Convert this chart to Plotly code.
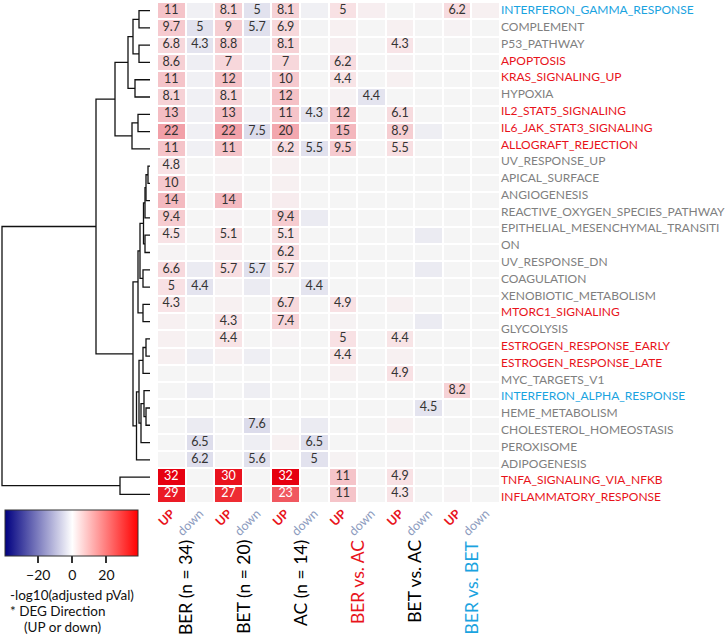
import plotly.graph_objects as go

W, H = 728, 636
FONT = "Lato"

pathways = [
    "INTERFERON_GAMMA_RESPONSE", "COMPLEMENT", "P53_PATHWAY", "APOPTOSIS",
    "KRAS_SIGNALING_UP", "HYPOXIA", "IL2_STAT5_SIGNALING", "IL6_JAK_STAT3_SIGNALING",
    "ALLOGRAFT_REJECTION", "UV_RESPONSE_UP", "APICAL_SURFACE", "ANGIOGENESIS",
    "REACTIVE_OXYGEN_SPECIES_PATHWAY", "EPITHELIAL_MESENCHYMAL_TRANSITION",
    "UV_RESPONSE_DN", "COAGULATION", "XENOBIOTIC_METABOLISM", "MTORC1_SIGNALING",
    "GLYCOLYSIS", "ESTROGEN_RESPONSE_EARLY", "ESTROGEN_RESPONSE_LATE", "MYC_TARGETS_V1",
    "INTERFERON_ALPHA_RESPONSE", "HEME_METABOLISM", "CHOLESTEROL_HOMEOSTASIS",
    "PEROXISOME", "ADIPOGENESIS", "TNFA_SIGNALING_VIA_NFKB", "INFLAMMATORY_RESPONSE",
]
pathway_class = [
    "b", "g", "g", "r", "r", "g", "r", "r", "r", "g", "g", "g", "g", "g", "g", "g", "g",
    "r", "g", "r", "r", "g", "b", "g", "g", "g", "g", "r", "r",
]
class_colors = {"r": "#E8131B", "b": "#1AA3DF", "g": "#7F7F7F"}

directions = ["UP", "down"]
direction_colors = {"UP": "#E8131B", "down": "#8C9BBE"}
groups = ["BER (n = 34)", "BET (n = 20)", "AC (n = 14)", "BER vs. AC", "BET vs. AC", "BER vs. BET"]
group_colors = ["#000000", "#000000", "#000000", "#E8131B", "#000000", "#1AA3DF"]

# signed -log10(adjusted pVal): positive = UP, negative = down
# columns: BER up/down, BET up/down, AC up/down, BERvsAC up/down, BETvsAC up/down, BERvsBET up/down
values = [
    [11, -1, 8.1, -5, 8.1, -1, 5, 2, 0, 0.5, 6.2, 1.5],
    [9.7, -5, 9, -5.7, 6.9, -0.5, 1.5, 0, 1.5, 0, 1, 0],
    [6.8, -4.3, 8.8, -1, 8.1, 0, 2, 0, 4.3, 0, 0, 0],
    [8.6, -1.5, 7, -1, 7, -0.5, 6.2, 0, 1, 0, 0, 0],
    [11, -1, 12, -1, 10, 0, 4.4, 0, 1.5, 0, 0, 0],
    [8.1, -1, 8.1, -0.5, 12, 0, 1, -4.4, 0, 0, 0, 0],
    [13, -1, 13, -1, 11, -4.3, 12, 0, 6.1, 0, 0, 0],
    [22, -1, 22, -7.5, 20, 0, 15, 0, 8.9, -1.5, 0, 0],
    [11, -1, 11, 0, 6.2, -5.5, 9.5, 0, 5.5, 0, 0, 0],
    [4.8, 0, 1.5, 0, 1.5, 0, 0, 0, 0, 0, 0, 0],
    [10, 0, 1, 0, 1.5, 0, 0, 0, 0, 0, 0, 0],
    [14, 0, 14, 0, 2.5, 0, 0, 0, 0, 0, 0, 0],
    [9.4, 0, 1, 0, 9.4, -2, 0, 0, 0, 0, 0, 0],
    [4.5, 0, 5.1, 0, 5.1, 0, 0, 0, 0, -2, 0, 0],
    [0.5, 0, 2, 0, 6.2, 0, 0, 0, 0, 0, 0, 0],
    [6.6, -2, 5.7, -5.7, 5.7, -1, 0, 0, 0, -2, 0, 0],
    [5, -4.4, 0.5, -2, 0, -4.4, 0, 0, 0, 0, 0, 0],
    [4.3, 0, 1.5, 0, 6.7, 0, 4.9, 0, 1.5, 0, 0, 0],
    [1.5, 0, 4.3, 0, 7.4, 0, 1, 0, 0, -2, 0, 0],
    [1.5, 0, 4.4, 0, 0.5, 0, 5, 0, 4.4, 0, 0, 0],
    [1.5, -1.5, 1.5, -1.5, 0, 0, 4.4, 0, 1.5, 0, 0, 0],
    [0, 0, 0, 0, 0, 0, 1.5, 0, 4.9, 0, 0, 0],
    [0, -1.5, 0, -1.5, 0, 0, 0, 0, 0, 0, 8.2, 0],
    [0, 0, 0, 0, 0, 0, 0, 0, 0, -4.5, 0, 0],
    [0, -2, 0, -7.6, 0, -2, 0, 0, 1.5, 0, 0, 0],
    [0, -6.5, 0, -1.5, 1.5, -6.5, 0, 0, 0, 0, 0, 0],
    [0, -6.2, 0, -5.6, 0, -5, 1, 0, 0.5, 0, 0, 0],
    [32, 0, 30, 0, 32, 0, 11, 0, 4.9, 0, 0, 0],
    [29, 0, 27, 0, 23, 0, 11, 0, 4.3, 0, 0.5, 0],
]
LABEL_MIN = 4.3

# row dendrogram: (left, right, merge distance); leaves are row indices
t12 = (0, 1, 11); t34 = (2, 3, 11); t1234 = (t12, t34, 17); t56 = (4, 5, 15)
t16 = (t1234, t56, 22); t78 = (6, 7, 12); t79 = (t78, 8, 18); top = (t16, t79, 35)
mA = (9, 10, 2); mB = (mA, 11, 4); mC = (mB, 12, 5); mD = (13, 14, 5); mE = (mC, mD, 6.5)
mF = (15, 16, 7); mG = (mE, mF, 10); mH = (17, 18, 7); mI = (mG, mH, 12)
mJ = (19, 20, 4); mK = (mJ, 21, 7); mM = (23, 24, 4); mL = (22, mM, 6); mN = (mL, 25, 9)
mO = (mK, mN, 11); mP = (mO, 26, 13.5); mQ = (mI, mP, 17)
topmid = (top, mQ, 54)
bottom = (27, 28, 30)
tree = (topmid, bottom, 148)

ncols = len(groups) * 2
nrows = len(pathways)

# ---------- layout geometry (pixels) ----------
HM_L, HM_R, HM_T, HM_B = 157, 500, 2, 503
DEN_L = 0
def px_x(p): return p / W
def px_y(p): return 1 - p / H

fig = go.Figure()

# cell colour scale (value -> colour)
ZMIN, ZMAX = -40, 40
cell_stops = [(-40, "#8E8EC0"), (-10, "#D6D6E8"), (-5, "#E2E2EE"), (-2, "#EBEBF2"),
              (0, "#F5F5F5"), (2, "#F7EEF0"), (5, "#F8E1E4"), (11, "#F5C4C9"),
              (22, "#F2A0A8"), (23, "#F05860"), (27, "#EE2C33"), (32, "#E60010"),
              (40, "#DD0000")]
cell_scale = [[(v - ZMIN) / (ZMAX - ZMIN), c] for v, c in cell_stops]

fig.add_trace(go.Heatmap(
    z=values, x=list(range(ncols)), y=list(range(nrows)),
    colorscale=cell_scale, zmin=ZMIN, zmax=ZMAX, xgap=2, ygap=2,
    showscale=False, hoverinfo="skip", xaxis="x", yaxis="y"))

# cell labels
tx, ty, tt, tc = [], [], [], []
for r, row in enumerate(values):
    for c, v in enumerate(row):
        if abs(v) >= LABEL_MIN:
            tx.append(c); ty.append(r)
            tt.append(f"{abs(v):.2g}")
            tc.append("#FFFFFF" if v >= 23 else "#333333")
fig.add_trace(go.Scatter(x=tx, y=ty, text=tt, mode="text",
                         textfont=dict(family=FONT, size=12.5, color=tc),
                         hoverinfo="skip", showlegend=False, xaxis="x", yaxis="y"))

# dendrogram
dx, dy = [], []
def walk(node):
    if isinstance(node, int):
        return float(node), 0.0
    l, r, h = node
    yl, hl = walk(l)
    yr, hr = walk(r)
    dx.extend([hl, h, h, hr, None])
    dy.extend([yl, yl, yr, yr, None])
    return (yl + yr) / 2, h
walk(tree)
fig.add_trace(go.Scatter(x=dx, y=dy, mode="lines", line=dict(color="#111111", width=1.3),
                         hoverinfo="skip", showlegend=False, xaxis="x2", yaxis="y"))

# right-hand pathway labels (wrapped at 31 characters, as in the original)
WRAP = 31
label_lines, label_cols = [], []
for name, cls in zip(pathways, pathway_class):
    for k in range(0, len(name), WRAP):
        label_lines.append(name[k:k + WRAP])
        label_cols.append(class_colors[cls])
nl = len(label_lines)
fig.add_trace(go.Scatter(x=[0] * nl, y=list(range(nl)), mode="markers",
                         marker=dict(opacity=0), hoverinfo="skip", showlegend=False,
                         xaxis="x", yaxis="y2"))

# legend colour bar (dummy trace)
fig.add_trace(go.Scatter(
    x=[0, 0], y=[0, 0], mode="markers", xaxis="x2", yaxis="y", hoverinfo="skip",
    showlegend=False,
    marker=dict(opacity=0, color=[-39.5, 38.5], cmin=-39.5, cmax=38.5,
                colorscale=[[0, "#000080"], [39.5 / 78, "#FFFFFF"], [1, "#FF0000"]],
                showscale=True,
                colorbar=dict(orientation="h", thickness=46, thicknessmode="pixels",
                              len=133, lenmode="pixels", x=px_x(71.5), xanchor="center",
                              y=px_y(510), yanchor="top", outlinewidth=1,
                              outlinecolor="#333333", tickvals=[-20, 0, 20],
                              ticks="outside", ticklen=7, tickwidth=2, tickcolor="#333333",
                              tickfont=dict(family=FONT, size=14, color="#111111"),
                              xpad=0, ypad=0))))

# column tick labels: UP / down, rotated 45 degrees
col_text = []
for c in range(ncols):
    d = directions[c % 2]
    t = f"<b>{d}</b>" if d == "UP" else d
    col_text.append(f"<span style='color:{direction_colors[d]}'>{t}</span>")

LINE_PX = 16.79
LINE0 = 10
fig.update_layout(
    width=W, height=H, margin=dict(l=0, r=0, t=0, b=0, autoexpand=False),
    paper_bgcolor="white", plot_bgcolor="white", showlegend=False,
    xaxis=dict(domain=[px_x(HM_L), px_x(HM_R)], range=[-0.5, ncols - 0.5],
               tickmode="array", tickvals=list(range(ncols)), ticktext=col_text,
               tickangle=-45, tickfont=dict(family=FONT, size=12.5),
               showgrid=False, zeroline=False, ticks="", automargin=False),
    yaxis=dict(domain=[px_y(HM_B), px_y(HM_T)], range=[nrows - 0.5, -0.5],
               showticklabels=False, showgrid=False, zeroline=False, ticks=""),
    xaxis2=dict(domain=[px_x(DEN_L), px_x(HM_L)], range=[150, -7], anchor="y",
                showticklabels=False, showgrid=False, zeroline=False, ticks=""),
    yaxis2=dict(overlaying="y", side="right", anchor="x",
                range=[(HM_B - LINE0) / LINE_PX, (HM_T - LINE0) / LINE_PX],
                tickmode="array", tickvals=list(range(nl)),
                ticktext=[f"<span style='color:{c}'>{t}</span>" for t, c in zip(label_lines, label_cols)],
                tickfont=dict(family=FONT, size=12, color="#7F7F7F"),
                ticks="", showgrid=False, zeroline=False, showline=False),
)

# group labels
for g, (name, col) in enumerate(zip(groups, group_colors)):
    fig.add_annotation(
        x=2 * g + 0.5, xref="x", y=px_y(538), yref="paper", xanchor="center",
        yanchor="top", text=name, textangle=-90, showarrow=False,
        font=dict(family=FONT, size=17.5, color=col))

# legend text
for txt, xp, yp in [("-log10(adjusted pVal)", 8, 595), ("* DEG Direction", 8, 611),
                    ("(UP or down)", 22, 627)]:
    fig.add_annotation(x=px_x(xp), y=px_y(yp), xref="paper", yref="paper",
                       xanchor="left", yanchor="middle", text=txt, showarrow=False,
                       font=dict(family=FONT, size=13.5, color="#111111"))

fig.write_html("out.html", config={"displayModeBar": False},
               post_script="document.body.style.margin='0px';document.body.style.overflow='hidden';")
